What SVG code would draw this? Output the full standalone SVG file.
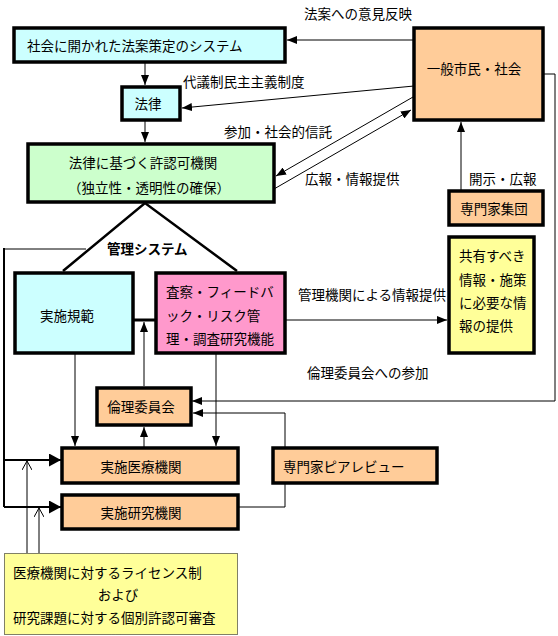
<svg xmlns="http://www.w3.org/2000/svg" width="558" height="636" viewBox="0 0 558 636">
<style>
text{font-family:"Noto Sans CJK JP","Noto Sans CJK SC",sans-serif;font-size:13.5px;fill:#000;dominant-baseline:central}
.mid{text-anchor:middle}
.box{stroke:#000;stroke-width:3.5}
.ln{fill:none;stroke:#000;stroke-width:1}
.thk{fill:none;stroke:#000;stroke-width:2}
.cyan{fill:#CCFFFF}.green{fill:#CCFFCC}.orange{fill:#FFCC99}.pink{fill:#FF99CC}.yellow{fill:#FFFF99}
</style>
<defs>
<marker id="ah" viewBox="0 0 10 8" refX="10" refY="4" markerWidth="10" markerHeight="8" markerUnits="userSpaceOnUse" orient="auto"><path d="M0,0 L10,4 L0,8 z" fill="#000"/></marker>
<marker id="ahb" viewBox="0 0 12 13" refX="12" refY="6.5" markerWidth="12" markerHeight="13" markerUnits="userSpaceOnUse" orient="auto"><path d="M0,0 L12,6.5 L0,13 z" fill="#000"/></marker>
<marker id="oa" viewBox="0 0 9 10" refX="9" refY="5" markerWidth="9" markerHeight="10" markerUnits="userSpaceOnUse" orient="auto"><path d="M0,0 L9,5 L0,10" fill="none" stroke="#000" stroke-width="1"/></marker>
</defs>

<g id="connectors">
<line class="ln" x1="414" y1="40" x2="287" y2="40" marker-end="url(#ah)"/>
<line class="ln" x1="145" y1="63" x2="145" y2="85" marker-end="url(#ah)"/>
<line class="ln" x1="414" y1="86" x2="182" y2="108" marker-end="url(#ah)"/>
<line class="ln" x1="145" y1="121" x2="145" y2="142" marker-end="url(#ah)"/>
<line class="ln" x1="413" y1="97" x2="276" y2="176" marker-end="url(#ah)"/>
<line class="ln" x1="274" y1="189" x2="411" y2="110" marker-end="url(#ah)"/>
<polyline class="ln" points="543,74 555,74 555,401 192,401" marker-end="url(#ah)"/>
<line class="ln" x1="461" y1="190" x2="461" y2="122" marker-end="url(#ah)"/>
<polyline fill="none" stroke="#000" stroke-width="2.5" points="63,271 145,203 237,271"/>
<polyline class="ln" points="86,249 4,249"/>
<line class="thk" x1="4" y1="248" x2="4" y2="507"/>
<line class="thk" x1="4" y1="460" x2="61" y2="460" marker-end="url(#ahb)"/>
<line class="thk" x1="4" y1="507" x2="61" y2="507" marker-end="url(#ahb)"/>
<line class="ln" x1="285" y1="320" x2="447" y2="320" marker-end="url(#ah)"/>
<line fill="none" stroke="#000" stroke-width="3" x1="133" y1="320" x2="156" y2="320"/>
<line class="ln" x1="144" y1="386" x2="144" y2="322" marker-end="url(#ah)"/>
<line class="ln" x1="75" y1="353" x2="75" y2="446" marker-end="url(#ah)"/>
<line class="ln" x1="216" y1="353" x2="216" y2="446" marker-end="url(#ah)"/>
<line class="ln" x1="144" y1="447" x2="144" y2="427" marker-end="url(#ah)"/>
<polyline class="ln" points="285,448 285,413 193,413" marker-end="url(#ah)"/>
<polyline class="ln" points="285,483 285,507 238,507"/>
<line class="ln" x1="27" y1="553" x2="27" y2="461" marker-end="url(#oa)"/>
<line class="ln" x1="39" y1="553" x2="39" y2="508" marker-end="url(#oa)"/>
</g>

<g id="labels">
<text x="304" y="13">法案への意見反映</text>
<text x="183" y="81">代議制民主主義制度</text>
<text x="224" y="131">参加・社会的信託</text>
<text x="305" y="178">広報・情報提供</text>
<text x="469" y="178">開示・広報</text>
<text x="107" y="248" font-weight="bold">管理システム</text>
<text x="298" y="294">管理機関による情報提供</text>
<text x="307" y="372">倫理委員会への参加</text>
</g>

<g id="n-system">
<rect class="box cyan" x="14" y="28" width="271" height="34"/>
<text x="27" y="45">社会に開かれた法案策定のシステム</text>
</g>
<g id="n-public">
<rect class="box orange" x="414" y="28" width="129" height="92"/>
<text class="mid" x="474" y="68">一般市民・社会</text>
</g>
<g id="n-law">
<rect class="box cyan" x="122" y="87" width="58" height="33"/>
<text class="mid" x="148" y="103">法律</text>
</g>
<g id="n-agency">
<rect class="box green" x="28" y="144" width="246" height="58"/>
<text class="mid" x="143" y="162">法律に基づく許認可機関</text>
<text class="mid" x="149" y="187">（独立性・透明性の確保）</text>
</g>
<g id="n-experts">
<rect class="box orange" x="449" y="191" width="94" height="34"/>
<text class="mid" x="494" y="208">専門家集団</text>
</g>
<g id="n-shared">
<rect class="box yellow" x="449" y="237" width="85" height="116"/>
<text x="459" y="255">共有すべき</text>
<text x="459" y="279">情報・施策</text>
<text x="459" y="302">に必要な情</text>
<text x="459" y="325">報の提供</text>
</g>
<g id="n-code">
<rect class="box cyan" x="15" y="273" width="118" height="80"/>
<text class="mid" x="67" y="315">実施規範</text>
</g>
<g id="n-inspect">
<rect class="box pink" x="156" y="273" width="129" height="80"/>
<text x="166" y="291">査察・フィードバ</text>
<text x="166" y="315">ック・リスク管</text>
<text x="166" y="338">理・調査研究機能</text>
</g>
<g id="n-ethics">
<rect class="box orange" x="97" y="388" width="94" height="37"/>
<text class="mid" x="141" y="406">倫理委員会</text>
</g>
<g id="n-medical">
<rect class="box orange" x="62" y="448" width="176" height="35"/>
<text class="mid" x="141" y="466">実施医療機関</text>
</g>
<g id="n-peer">
<rect class="box orange" x="273" y="448" width="164" height="35"/>
<text x="283" y="466">専門家ピアレビュー</text>
</g>
<g id="n-research">
<rect class="box orange" x="62" y="495" width="176" height="34"/>
<text class="mid" x="141" y="512">実施研究機関</text>
</g>
<g id="n-license">
<rect class="yellow" x="4.5" y="553.5" width="233" height="81" stroke="#000" stroke-width="1" stroke-dasharray="1,1"/>
<text x="13" y="572">医療機関に対するライセンス制</text>
<text class="mid" x="118" y="594">および</text>
<text x="13" y="617">研究課題に対する個別許認可審査</text>
</g>
</svg>
